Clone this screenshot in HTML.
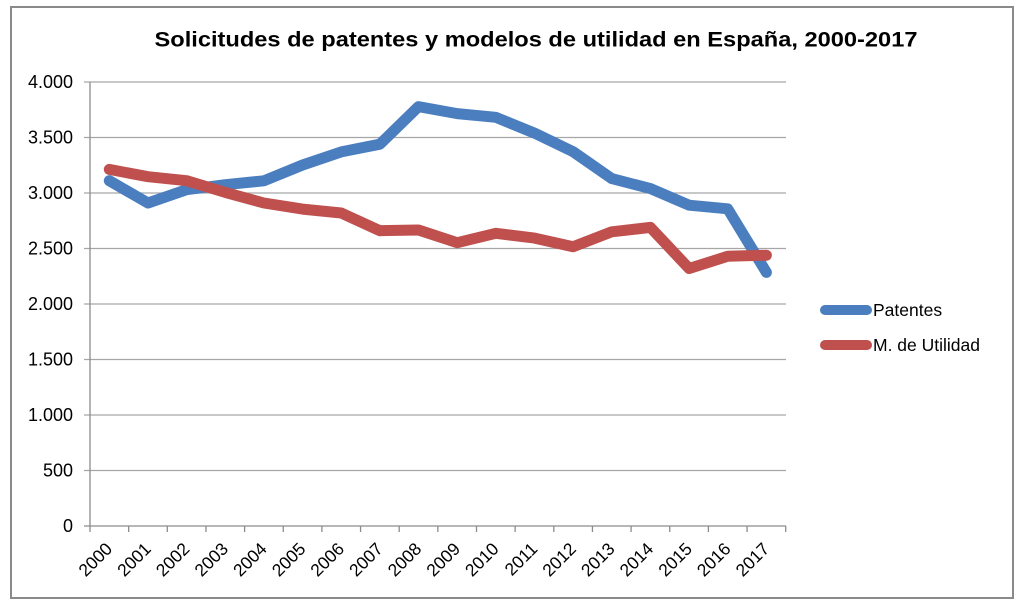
<!DOCTYPE html>
<html><head><meta charset="utf-8">
<style>
html,body{margin:0;padding:0;background:#fff;}
svg{display:block;}
text{font-family:"Liberation Sans",Arial,sans-serif;fill:#000;}
</style></head>
<body>
<svg width="1024" height="609" viewBox="0 0 1024 609" xmlns="http://www.w3.org/2000/svg">
<rect x="0" y="0" width="1024" height="609" fill="#fff"/>
<rect x="11" y="7" width="1002" height="591" fill="#fff" stroke="#8a8a8a" stroke-width="2"/>
<text x="536" y="46.5" text-anchor="middle" font-size="21.5" font-weight="bold" textLength="763" lengthAdjust="spacingAndGlyphs">Solicitudes de patentes y modelos de utilidad en España, 2000-2017</text>
<g stroke="#a6a6a6" stroke-width="1.2">
<line x1="84" y1="82" x2="786" y2="82"/>
<line x1="84" y1="137.5" x2="786" y2="137.5"/>
<line x1="84" y1="193" x2="786" y2="193"/>
<line x1="84" y1="248.5" x2="786" y2="248.5"/>
<line x1="84" y1="304" x2="786" y2="304"/>
<line x1="84" y1="359.5" x2="786" y2="359.5"/>
<line x1="84" y1="415" x2="786" y2="415"/>
<line x1="84" y1="470.5" x2="786" y2="470.5"/>
</g>
<g stroke="#8c8c8c" stroke-width="1.3">
<line x1="90" y1="82" x2="90" y2="526"/>
<line x1="84" y1="526" x2="786" y2="526"/>
<line x1="90" y1="526" x2="90" y2="532"/><line x1="128.65" y1="526" x2="128.65" y2="532"/><line x1="167.3" y1="526" x2="167.3" y2="532"/><line x1="205.95" y1="526" x2="205.95" y2="532"/><line x1="244.6" y1="526" x2="244.6" y2="532"/><line x1="283.25" y1="526" x2="283.25" y2="532"/><line x1="321.9" y1="526" x2="321.9" y2="532"/><line x1="360.55" y1="526" x2="360.55" y2="532"/><line x1="399.2" y1="526" x2="399.2" y2="532"/><line x1="437.85" y1="526" x2="437.85" y2="532"/><line x1="476.5" y1="526" x2="476.5" y2="532"/><line x1="515.15" y1="526" x2="515.15" y2="532"/><line x1="553.8" y1="526" x2="553.8" y2="532"/><line x1="592.45" y1="526" x2="592.45" y2="532"/><line x1="631.1" y1="526" x2="631.1" y2="532"/><line x1="669.75" y1="526" x2="669.75" y2="532"/><line x1="708.4" y1="526" x2="708.4" y2="532"/><line x1="747.05" y1="526" x2="747.05" y2="532"/><line x1="785.7" y1="526" x2="785.7" y2="532"/>
</g>
<g font-size="18" text-anchor="end">
<text x="73" y="88">4.000</text>
<text x="73" y="143.5">3.500</text>
<text x="73" y="199">3.000</text>
<text x="73" y="254.5">2.500</text>
<text x="73" y="310">2.000</text>
<text x="73" y="365.5">1.500</text>
<text x="73" y="421">1.000</text>
<text x="73" y="476.5">500</text>
<text x="73" y="532">0</text>
</g>
<g font-size="17.5" text-anchor="end">
<text transform="translate(113.3,550) rotate(-45)">2000</text>
<text transform="translate(152.0,550) rotate(-45)">2001</text>
<text transform="translate(190.6,550) rotate(-45)">2002</text>
<text transform="translate(229.3,550) rotate(-45)">2003</text>
<text transform="translate(267.9,550) rotate(-45)">2004</text>
<text transform="translate(306.6,550) rotate(-45)">2005</text>
<text transform="translate(345.2,550) rotate(-45)">2006</text>
<text transform="translate(383.9,550) rotate(-45)">2007</text>
<text transform="translate(422.5,550) rotate(-45)">2008</text>
<text transform="translate(461.2,550) rotate(-45)">2009</text>
<text transform="translate(499.8,550) rotate(-45)">2010</text>
<text transform="translate(538.5,550) rotate(-45)">2011</text>
<text transform="translate(577.1,550) rotate(-45)">2012</text>
<text transform="translate(615.8,550) rotate(-45)">2013</text>
<text transform="translate(654.4,550) rotate(-45)">2014</text>
<text transform="translate(693.1,550) rotate(-45)">2015</text>
<text transform="translate(731.7,550) rotate(-45)">2016</text>
<text transform="translate(770.4,550) rotate(-45)">2017</text>
</g>
<polyline fill="none" stroke="#4a7ebf" stroke-width="11" stroke-linejoin="round" stroke-linecap="round"
points="109.3,180.7 148.0,203.0 186.6,189.7 225.3,184.7 263.9,180.8 302.6,165.0 341.2,151.9 379.9,144.2 418.5,106.6 457.2,113.6 495.8,117.3 534.5,133.1 573.1,151.7 611.8,178.6 650.4,188.6 689.1,205.2 727.7,208.8 766.4,272.4"/>
<polyline fill="none" stroke="#c0504d" stroke-width="11" stroke-linejoin="round" stroke-linecap="round"
points="109.3,169.4 148.0,176.7 186.6,180.7 225.3,192.4 263.9,203.0 302.6,209.1 341.2,213.0 379.9,230.7 418.5,230.0 457.2,242.7 495.8,233.3 534.5,238.1 573.1,246.7 611.8,231.8 650.4,227.4 689.1,268.5 727.7,256.3 766.4,255.2"/>
<line x1="825" y1="310" x2="867" y2="310" stroke="#4a7ebf" stroke-width="10" stroke-linecap="round"/>
<line x1="825" y1="345" x2="867" y2="345" stroke="#c0504d" stroke-width="10" stroke-linecap="round"/>
<g font-size="17.5">
<text x="873" y="316">Patentes</text>
<text x="873" y="351">M. de Utilidad</text>
</g>
</svg>
</body></html>
